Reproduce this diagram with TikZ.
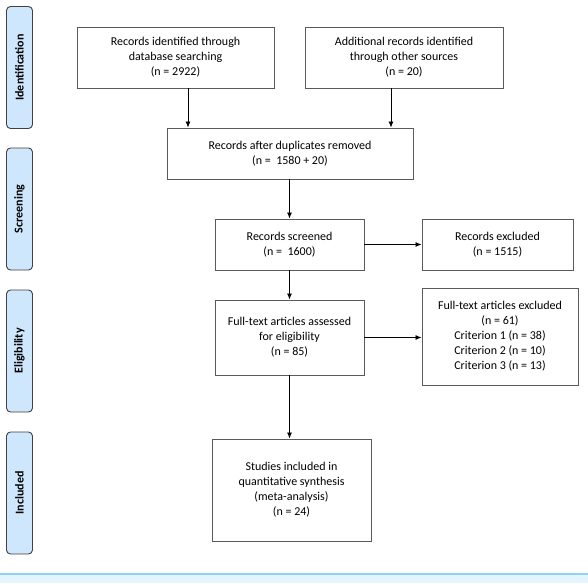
\documentclass[tikz,border=0pt]{standalone}
\usepackage{fontspec}
\setmainfont{Carlito}
\usetikzlibrary{arrows.meta}
\definecolor{sidefill}{RGB}{206,231,252}
\definecolor{sideedge}{RGB}{64,64,64}
\definecolor{boxedge}{RGB}{90,90,90}
\definecolor{footline}{RGB}{141,211,242}
\definecolor{footfill}{RGB}{229,245,253}
\tikzset{
  flowbox/.style={draw=boxedge, line width=0.9pt, fill=white, align=center, inner sep=0pt,
    font=\fontsize{12}{15}\selectfont},
  sidebox/.style={draw=sideedge, line width=0.9pt, fill=sidefill, rounded corners=4pt,
    minimum width=122pt, minimum height=26pt, inner sep=0pt, rotate=90,
    font=\fontsize{12}{14}\selectfont\bfseries},
  flowarrow/.style={draw=black, line width=0.8pt, -{Latex[length=6pt,width=5pt]}}
}
\begin{document}
\begin{tikzpicture}[x=1pt,y=-1pt]
\useasboundingbox (0,0) rectangle (588,583);
% footer
\fill[footfill] (0,574) rectangle (588,583);
\draw[footline, line width=1.5pt] (0,574) -- (588,574);
% side labels
\node[sidebox] (sid) at (19.5,67.5) {Identification};
\node[sidebox] (sscr) at (19.5,209) {Screening};
\node[sidebox] (selig) at (19.5,351) {Eligibility};
\node[sidebox] (sincl) at (19.5,493) {Included};
% boxes
\node[flowbox, minimum width=197pt, minimum height=61pt] (db) at (175.5,57.5)
  {Records identified through\\database searching\\(n = 2922)};
\node[flowbox, minimum width=198pt, minimum height=61pt] (other) at (404,57.5)
  {Additional records identified\\through other sources\\(n = 20)};
\node[flowbox, minimum width=246pt, minimum height=51pt] (dup) at (290,153.5)
  {Records after duplicates removed\\(n =\ \ 1580 + 20)};
\node[flowbox, minimum width=149pt, minimum height=51pt] (scr) at (289.5,244.5)
  {Records screened\\(n =\ \ 1600)};
\node[flowbox, minimum width=151pt, minimum height=51pt] (exc) at (497.5,244.5)
  {Records excluded\\(n = 1515)};
\node[flowbox, minimum width=149pt, minimum height=75pt] (ft) at (289.5,337.5)
  {Full-text articles assessed\\for eligibility\\(n = 85)};
\node[flowbox, minimum width=156pt, minimum height=97pt] (ftx) at (500,336.5)
  {Full-text articles excluded\\(n = 61)\\Criterion 1 (n = 38)\\Criterion 2 (n = 10)\\Criterion 3 (n = 13)};
\node[flowbox, minimum width=159pt, minimum height=102pt] (inc) at (291.5,490)
  {Studies included in\\quantitative synthesis\\(meta-analysis)\\(n = 24)};
% arrows
\coordinate (dbout) at (188,88);
\coordinate (otherout) at (391,88);
\draw[flowarrow] (dbout) -- (dbout |- dup.north);
\draw[flowarrow] (otherout) -- (otherout |- dup.north);
\draw[flowarrow] (dup.south -| scr.north) -- (scr.north);
\draw[flowarrow] (scr.east) -- (exc.west);
\draw[flowarrow] (scr.south) -- (ft.north);
\draw[flowarrow] (ft.east) -- (ft.east -| ftx.west);
\draw[flowarrow] (ft.south) -- (ft.south |- inc.north);
\end{tikzpicture}
\end{document}
